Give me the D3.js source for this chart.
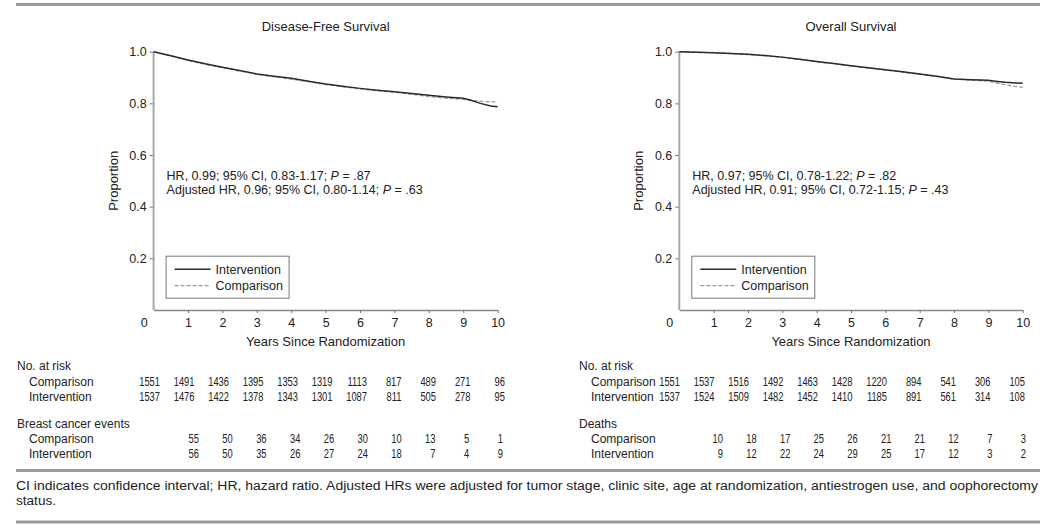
<!DOCTYPE html>
<html>
<head>
<meta charset="utf-8">
<script src="https://cdn.jsdelivr.net/npm/d3@7/dist/d3.min.js"></script>
<style>
  html, body { margin: 0; padding: 0; background: #fff; }
  svg { display: block; }
  svg text { font-family: "Liberation Sans", Arial, Helvetica, sans-serif; fill: #222; }
</style>
</head>
<body>
<svg id="chart" width="1050" height="530"></svg>
<script>
// ---------------- DATA ----------------
const years = [0, 0.5, 1, 1.5, 2, 2.5, 3, 3.5, 4, 4.5, 5, 5.5, 6, 6.5, 7, 7.5, 8, 8.5, 9, 9.2, 9.5, 9.8, 10];

const dfsIntervention = [1.0, 0.984, 0.968, 0.953, 0.940, 0.927, 0.914, 0.905, 0.897, 0.886, 0.875, 0.866, 0.858, 0.851, 0.845, 0.838, 0.831, 0.825, 0.820, 0.813, 0.800, 0.790, 0.787];
const dfsComparison   = [1.0, 0.984, 0.966, 0.951, 0.938, 0.925, 0.913, 0.903, 0.894, 0.884, 0.873, 0.864, 0.856, 0.849, 0.843, 0.835, 0.826, 0.820, 0.816, 0.812, 0.808, 0.806, 0.806];

const osIntervention = [1.0, 0.998, 0.996, 0.993, 0.990, 0.985, 0.979, 0.971, 0.962, 0.954, 0.946, 0.938, 0.930, 0.922, 0.914, 0.905, 0.894, 0.891, 0.889, 0.886, 0.882, 0.879, 0.878];
const osComparison   = [1.0, 0.998, 0.996, 0.993, 0.989, 0.984, 0.978, 0.970, 0.961, 0.953, 0.945, 0.937, 0.929, 0.921, 0.913, 0.904, 0.894, 0.890, 0.886, 0.880, 0.872, 0.865, 0.862];

const xTicks = [0, 1, 2, 3, 4, 5, 6, 7, 8, 9, 10];
const yTicks = [0.2, 0.4, 0.6, 0.8, 1.0];

const seriesNames = ["Intervention", "Comparison"];

const dfsRiskComparison   = [1551, 1491, 1436, 1395, 1353, 1319, 1113, 817, 489, 271, 96];
const dfsRiskIntervention = [1537, 1476, 1422, 1378, 1343, 1301, 1087, 811, 505, 278, 95];
const dfsEventsComparison   = [55, 50, 36, 34, 26, 30, 10, 13, 5, 1];
const dfsEventsIntervention = [56, 50, 35, 26, 27, 24, 18, 7, 4, 9];

const osRiskComparison   = [1551, 1537, 1516, 1492, 1463, 1428, 1220, 894, 541, 306, 105];
const osRiskIntervention = [1537, 1524, 1509, 1482, 1452, 1410, 1185, 891, 561, 314, 108];
const osDeathsComparison   = [10, 18, 17, 25, 26, 21, 21, 12, 7, 3];
const osDeathsIntervention = [9, 12, 22, 24, 29, 25, 17, 12, 3, 2];

const panelTitles = ["Disease-Free Survival", "Overall Survival"];
const hrLines = [
  [["HR, 0.99; 95% CI, 0.83-1.17; ", " = .87"], ["Adjusted HR, 0.96; 95% CI, 0.80-1.14; ", " = .63"]],
  [["HR, 0.97; 95% CI, 0.78-1.22; ", " = .82"], ["Adjusted HR, 0.91; 95% CI, 0.72-1.15; ", " = .43"]]
];
const eventsTitles = ["Breast cancer events", "Deaths"];
const caption = ["CI indicates confidence interval; HR, hazard ratio. Adjusted HRs were adjusted for tumor stage, clinic site, age at randomization, antiestrogen use, and oophorectomy",
                 "status."];

// ---------------- DRAW ----------------
const FONT = '"Liberation Sans", Arial, Helvetica, sans-serif';
const svg = d3.select("#chart");

// horizontal rules
[4.5, 470.5, 522].forEach(y => {
  svg.append("line").attr("x1", 16).attr("x2", 1040).attr("y1", y).attr("y2", y)
    .attr("stroke", "#9a9a9a").attr("stroke-width", 3);
});

const panels = [
  { x0: 153.6, x1: 497.6, title: panelTitles[0], inter: dfsIntervention, comp: dfsComparison, hr: hrLines[0],
    tableX: 17, riskRange: [160, 505], evRange: [199, 503],
    riskC: dfsRiskComparison, riskI: dfsRiskIntervention, evTitle: eventsTitles[0], evC: dfsEventsComparison, evI: dfsEventsIntervention },
  { x0: 679.3, x1: 1022.7, title: panelTitles[1], inter: osIntervention, comp: osComparison, hr: hrLines[1],
    tableX: 579, riskRange: [680, 1025], evRange: [723, 1026],
    riskC: osRiskComparison, riskI: osRiskIntervention, evTitle: eventsTitles[1], evC: osDeathsComparison, evI: osDeathsIntervention }
];

const yTop = 51.7, yBot = 310;
const FS = "12.5px";

panels.forEach(p => {
  const g = svg.append("g");
  const x = d3.scaleLinear().domain([0, 10]).range([p.x0, p.x1]);
  const y = d3.scaleLinear().domain([0, 1]).range([yBot, yTop]);

  // title
  g.append("text").attr("x", (p.x0 + p.x1) / 2).attr("y", 31).attr("text-anchor", "middle")
    .style("font-size", "13px").text(p.title);

  // y axis
  const ya = g.append("g").attr("transform", `translate(${p.x0},0)`)
    .call(d3.axisLeft(y).tickValues(yTicks).tickFormat(d3.format(".1f")).tickSize(4).tickPadding(3));
  ya.attr("font-family", null);
  ya.select(".domain").remove();
  ya.selectAll(".tick line").attr("stroke", "#777");
  ya.selectAll(".tick text").style("font-size", FS).attr("fill", "#222").style("font-family", FONT);
  g.append("line").attr("x1", p.x0).attr("x2", p.x0).attr("y1", yTop).attr("y2", yBot)
    .attr("stroke", "#a8a8a8").attr("stroke-width", 2);

  // x axis
  const xa = g.append("g").attr("transform", `translate(0,${yBot})`)
    .call(d3.axisBottom(x).tickValues(xTicks).tickFormat(d3.format("d")).tickSize(3).tickPadding(5).tickSizeOuter(0));
  xa.attr("font-family", null);
  xa.select(".domain").attr("stroke", "#888").attr("stroke-width", 1.3);
  xa.selectAll(".tick line").attr("stroke", "#777");
  xa.selectAll(".tick text").style("font-size", FS).attr("fill", "#222").style("font-family", FONT);
  xa.selectAll(".tick").filter(d => d === 0).select("text").attr("dx", -10);
  xa.selectAll(".tick").filter(d => d === 0).select("line").remove();

  // axis labels
  g.append("text").attr("x", (p.x0 + p.x1) / 2).attr("y", 346).attr("text-anchor", "middle")
    .style("font-size", "13px").text("Years Since Randomization");
  g.append("text").attr("transform", `translate(${p.x0 - 36},${(yTop + yBot) / 2}) rotate(-90)`)
    .attr("text-anchor", "middle").style("font-size", "13px").text("Proportion");

  // curves
  const line = d3.line().x((d, i) => x(years[i])).y(d => y(d));
  g.append("path").datum(p.comp).attr("d", line).attr("fill", "none")
    .attr("stroke", "#9c9c9c").attr("stroke-width", 1.3).attr("stroke-dasharray", "4,2");
  g.append("path").datum(p.inter).attr("d", line).attr("fill", "none")
    .attr("stroke", "#2a2a2a").attr("stroke-width", 1.5);

  // HR text
  p.hr.forEach((ln, i) => {
    const t = g.append("text").attr("x", p.x0 + 13).attr("y", 180 + i * 13.6).style("font-size", FS);
    t.append("tspan").text(ln[0]);
    t.append("tspan").style("font-style", "italic").text("P");
    t.append("tspan").text(ln[1]);
  });

  // legend
  const lx = p.x0 + 12, ly = 255.7;
  g.append("rect").attr("x", lx + 0.5).attr("y", ly + 0.5).attr("width", 123).attr("height", 42)
    .attr("fill", "#fff").attr("stroke", "#777").attr("stroke-width", 1);
  seriesNames.forEach((name, i) => {
    const yy = ly + 13.5 + i * 16.5;
    g.append("line").attr("x1", lx + 9).attr("x2", lx + 45).attr("y1", yy).attr("y2", yy)
      .attr("stroke", i === 0 ? "#2a2a2a" : "#9c9c9c").attr("stroke-width", i === 0 ? 1.5 : 1.3)
      .attr("stroke-dasharray", i === 0 ? null : "4,2");
    g.append("text").attr("x", lx + 50).attr("y", yy + 4.5).style("font-size", FS).text(name);
  });

  // risk table
  const rx = d3.scaleLinear().domain([0, 10]).range(p.riskRange);
  const ex = d3.scaleLinear().domain([1, 10]).range(p.evRange);
  const tg = svg.append("g");
  const TFS = "12px";
  tg.append("text").attr("x", p.tableX).attr("y", 369.5).style("font-size", TFS).text("No. at risk");
  tg.append("text").attr("x", p.tableX + 12).attr("y", 385.5).style("font-size", TFS).text("Comparison");
  tg.append("text").attr("x", p.tableX + 12).attr("y", 400.5).style("font-size", TFS).text("Intervention");
  tg.append("text").attr("x", p.tableX).attr("y", 427.5).style("font-size", TFS).text(p.evTitle);
  tg.append("text").attr("x", p.tableX + 12).attr("y", 442.5).style("font-size", TFS).text("Comparison");
  tg.append("text").attr("x", p.tableX + 12).attr("y", 457.5).style("font-size", TFS).text("Intervention");

  const numScale = 0.72;
  [[p.riskC, 385.5], [p.riskI, 400.5]].forEach(([arr, yy]) => {
    tg.selectAll(null).data(arr).enter().append("text")
      .attr("transform", (d, i) => `translate(${rx(i)},${yy}) scale(${numScale},1)`)
      .attr("text-anchor", "end").style("font-size", "13px").text(d => d);
  });
  [[p.evC, 442.5], [p.evI, 457.5]].forEach(([arr, yy]) => {
    tg.selectAll(null).data(arr).enter().append("text")
      .attr("transform", (d, i) => `translate(${ex(i + 1)},${yy}) scale(${numScale},1)`)
      .attr("text-anchor", "end").style("font-size", "13px").text(d => d);
  });
});

// caption
const CFONT = '"Liberation Sans Narrow", "Arial Narrow", "Liberation Sans", Arial, sans-serif';
svg.append("text").attr("x", 16).attr("y", 490).attr("textLength", 1022).attr("lengthAdjust", "spacingAndGlyphs")
  .style("font-family", CFONT).style("font-size", "12.5px").text(caption[0]);
svg.append("text").attr("x", 16).attr("y", 504.5)
  .attr("textLength", 40).attr("lengthAdjust", "spacingAndGlyphs")
  .style("font-family", CFONT).style("font-size", "12.5px").text(caption[1]);
</script>
</body>
</html>
